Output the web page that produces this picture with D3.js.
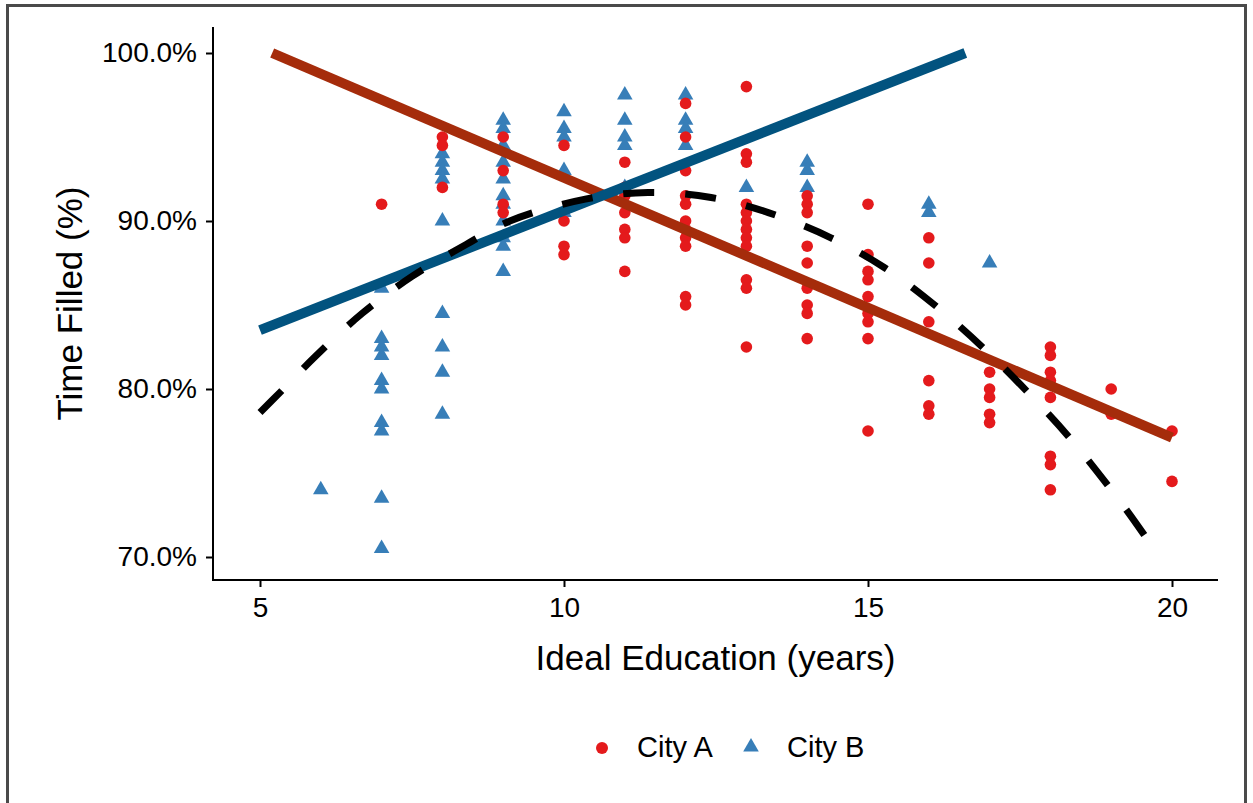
<!DOCTYPE html>
<html>
<head>
<meta charset="utf-8">
<script src="https://cdn.jsdelivr.net/npm/d3@7"></script>
<style>
  body { margin: 0; background: #fff; }
  svg text { font-family: "Liberation Sans", Arial, Helvetica, sans-serif; fill: #000; }
</style>
</head>
<body>
<svg id="chart" width="1253" height="803"></svg>
<script>
// --- DATA ---
const xTicks = [5, 10, 15, 20];
const yTicks = [70, 80, 90, 100];

// City A (red dots), grouped by education years
const cityA = [
  { x: 7,  y: [91.0] },
  { x: 8,  y: [95.0, 94.5, 92.0] },
  { x: 9,  y: [95.0, 93.0, 91.0, 90.5] },
  { x: 10, y: [94.5, 90.0, 88.5, 88.0] },
  { x: 11, y: [93.5, 92.0, 91.5, 90.5, 89.5, 89.0, 87.0] },
  { x: 12, y: [97.0, 95.0, 93.0, 91.5, 91.0, 90.0, 89.5, 89.0, 88.5, 85.5, 85.0] },
  { x: 13, y: [98.0, 94.0, 93.5, 91.0, 90.5, 90.0, 89.5, 89.0, 88.5, 86.5, 86.0, 82.5] },
  { x: 14, y: [91.5, 91.0, 90.5, 88.5, 87.5, 86.0, 85.0, 84.5, 83.0] },
  { x: 15, y: [91.0, 88.0, 87.0, 86.5, 85.5, 84.5, 84.0, 83.0, 77.5] },
  { x: 16, y: [89.0, 87.5, 84.0, 80.5, 79.0, 78.5] },
  { x: 17, y: [81.0, 80.0, 79.5, 78.5, 78.0] },
  { x: 18, y: [82.5, 82.0, 81.0, 80.5, 79.5, 76.0, 75.5, 74.0] },
  { x: 19, y: [80.0, 78.5] },
  { x: 20, y: [77.5, 74.5] }
];

// City B (blue triangles)
const cityB = [
  { x: 6,  y: [74.0] },
  { x: 7,  y: [86.0, 83.0, 82.5, 82.0, 80.5, 80.0, 78.0, 77.5, 73.5, 70.5] },
  { x: 8,  y: [94.0, 93.5, 93.0, 92.5, 90.0, 84.5, 82.5, 81.0, 78.5] },
  { x: 9,  y: [96.0, 95.5, 94.5, 93.5, 92.5, 91.5, 91.0, 90.0, 89.0, 88.5, 87.0] },
  { x: 10, y: [96.5, 95.5, 95.0, 93.0, 90.5] },
  { x: 11, y: [97.5, 96.0, 95.0, 94.5, 92.0] },
  { x: 12, y: [97.5, 96.0, 95.5, 94.5] },
  { x: 13, y: [92.0] },
  { x: 14, y: [93.5, 93.0, 92.0] },
  { x: 16, y: [91.0, 90.5] },
  { x: 17, y: [87.5] }
];

// straight fits
const fitAX = [5.2, 20.0];
const fitAY = [100.0, 77.1];
const fitBX = [5.0, 16.6];
const fitBY = [83.5, 100.0];

// dashed overall trend curve
const trendX = [5.0, 5.33, 5.9, 6.68, 7.5, 8.39, 9.11, 10.35, 11.38, 12.42, 13.36, 14.39, 15.28, 16.13, 16.91, 17.63, 18.34, 19.23, 19.64];
const trendY = [78.6, 79.8, 81.9, 84.5, 86.7, 88.6, 90.0, 91.3, 91.7, 91.4, 90.5, 89.0, 87.2, 84.9, 82.4, 79.8, 77.0, 72.9, 70.8];

const legendItems = ["City A", "City B"];

// --- CHART ---
const svg = d3.select("#chart");
const red = "#E41A1C", blue = "#377EB8";

// outer frame
svg.append("rect")
  .attr("x", 7.5).attr("y", 5.5)
  .attr("width", 1238).attr("height", 820)
  .attr("fill", "none").attr("stroke", "#4a4a4a").attr("stroke-width", 3);

const x = d3.scaleLinear().domain([5, 20]).range([260, 1172]);
const y = d3.scaleLinear().domain([70, 100]).range([557, 53]);
const panel = { left: 213, right: 1218, top: 27, bottom: 580 };

// axes
const xAxis = svg.append("g")
  .attr("transform", `translate(0,${panel.bottom})`)
  .call(d3.axisBottom(x).tickValues(xTicks).tickSize(7).tickPadding(10).tickFormat(d3.format("d")));
xAxis.select(".domain").remove();
xAxis.selectAll("line").attr("stroke", "#000").attr("stroke-width", 2);
xAxis.selectAll("text").style("font-size", "28px").attr("fill", "#000").attr("dy", "0.71em");

const yAxis = svg.append("g")
  .attr("transform", `translate(${panel.left},0)`)
  .call(d3.axisLeft(y).tickValues(yTicks).tickSize(7).tickPadding(9).tickFormat(d => d.toFixed(1) + "%"));
yAxis.select(".domain").remove();
yAxis.selectAll("line").attr("stroke", "#000").attr("stroke-width", 2);
yAxis.selectAll("text").style("font-size", "28px").attr("fill", "#000");

svg.append("line")
  .attr("x1", panel.left - 1).attr("x2", panel.right)
  .attr("y1", panel.bottom).attr("y2", panel.bottom)
  .attr("stroke", "#000").attr("stroke-width", 2);
svg.append("line")
  .attr("x1", panel.left).attr("x2", panel.left)
  .attr("y1", panel.top).attr("y2", panel.bottom)
  .attr("stroke", "#000").attr("stroke-width", 2);

// axis titles
svg.append("text")
  .attr("x", (panel.left + panel.right) / 2).attr("y", 670)
  .attr("text-anchor", "middle").style("font-size", "35px")
  .text("Ideal Education (years)");
svg.append("text")
  .attr("transform", `translate(82,${(panel.top + panel.bottom) / 2}) rotate(-90)`)
  .attr("text-anchor", "middle").style("font-size", "35px")
  .text("Time Filled (%)");

// points
const flat = arr => arr.flatMap(g => g.y.map(v => ({ x: g.x, y: v })));
const tri = d3.symbol().type(d3.symbolTriangle).size(105);

svg.append("g").selectAll("path")
  .data(flat(cityB))
  .join("path")
  .attr("d", tri)
  .attr("transform", d => `translate(${x(d.x)},${y(d.y)})`)
  .attr("fill", blue);

svg.append("g").selectAll("circle")
  .data(flat(cityA))
  .join("circle")
  .attr("cx", d => x(d.x)).attr("cy", d => y(d.y))
  .attr("r", 5.8)
  .attr("fill", red);

// fitted lines
const line = d3.line().x(d => x(d[0])).y(d => y(d[1]));
svg.append("path")
  .datum(d3.zip(fitAX, fitAY))
  .attr("d", line)
  .attr("fill", "none").attr("stroke", "#A52C0B").attr("stroke-width", 10);
svg.append("path")
  .datum(d3.zip(fitBX, fitBY))
  .attr("d", line)
  .attr("fill", "none").attr("stroke", "#02537F").attr("stroke-width", 10);

svg.append("path")
  .datum(d3.zip(trendX, trendY))
  .attr("d", line.curve(d3.curveCatmullRom))
  .attr("fill", "none").attr("stroke", "#000").attr("stroke-width", 7)
  .attr("stroke-dasharray", "31,31");

// legend
const legend = svg.append("g");
legend.append("circle").attr("cx", 602).attr("cy", 748).attr("r", 6).attr("fill", red);
legend.append("text").attr("x", 637).attr("y", 757).style("font-size", "29px").text(legendItems[0]);
legend.append("path").attr("d", tri).attr("transform", "translate(751,747)").attr("fill", blue);
legend.append("text").attr("x", 787).attr("y", 757).style("font-size", "29px").text(legendItems[1]);
</script>
</body>
</html>
